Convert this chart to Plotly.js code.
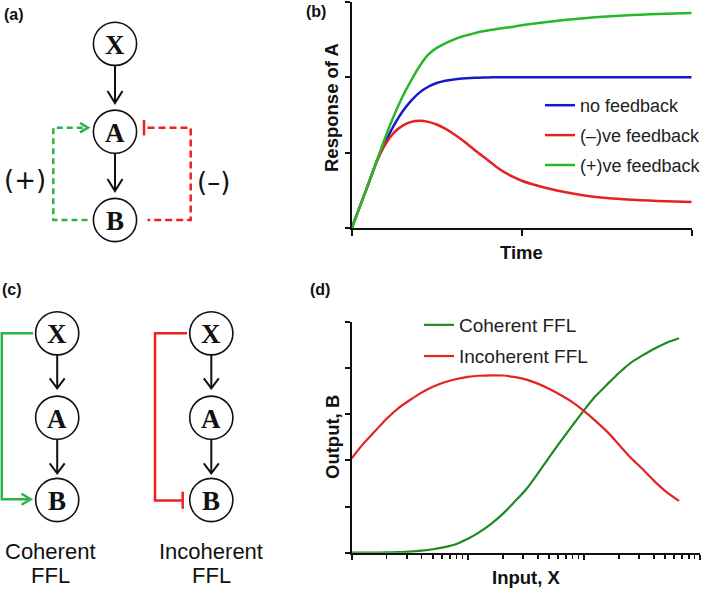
<!DOCTYPE html>
<html>
<head>
<meta charset="utf-8">
<script src="https://cdn.plot.ly/plotly-3.0.1.min.js"></script>
<style>html,body{margin:0;padding:0;background:#fff;}#chart{width:709px;height:589px;}</style>
</head>
<body>
<div id="chart"></div>
<script>
// ---------- Data ----------
// Panel (b): response of A over time
const timeVals    = [0,0.05,0.1,0.15,0.2,0.25,0.3,0.35,0.4,0.45,0.5,0.55,0.6,0.65,0.7,0.75,0.8,0.85,0.9,0.95,1.0,
                     1.1,1.2,1.3,1.4,1.5,1.6,1.7,1.8,1.9,2.0];
const noFeedback  = [0,0.3,0.6,0.9,1.15,1.37,1.55,1.69,1.8,1.875,1.925,1.955,1.972,1.983,1.99,1.995,1.998,2,2,2,2,
                     2,2,2,2,2,2,2,2,2,2];
const negFeedback = [0,0.3,0.6,0.9,1.12,1.27,1.36,1.41,1.425,1.41,1.375,1.32,1.25,1.17,1.08,0.99,0.905,0.815,0.74,0.68,0.63,
                     0.56,0.505,0.46,0.425,0.4,0.385,0.372,0.362,0.355,0.35];
const posFeedback = [0,0.3,0.6,0.91,1.22,1.5,1.75,1.96,2.15,2.3,2.39,2.45,2.5,2.54,2.57,2.6,2.62,2.64,2.655,2.67,2.69,
                     2.72,2.745,2.77,2.79,2.805,2.82,2.83,2.84,2.845,2.85];
const seriesB     = ['no feedback', '(–)ve feedback', '(+)ve feedback'];

// Panel (d): output B vs input X (log axis)
const inputX      = [1,1.25,1.6,2,2.5,3.2,4,5,6.3,8,10,12.5,16,20,25,32,40,50,63,80,100,125,160,200,250,320,400,500,660];
const coherent    = [0,0.001,0.003,0.006,0.013,0.025,0.045,0.075,0.12,0.19,0.30,0.44,0.63,0.84,1.09,1.38,1.71,2.06,2.41,2.76,3.08,
                     3.38,3.65,3.89,4.1,4.27,4.41,4.53,4.64];
const incoherent  = [2.04,2.35,2.64,2.90,3.12,3.31,3.465,3.59,3.69,3.76,3.805,3.83,3.84,3.835,3.805,3.745,3.66,3.55,3.415,3.255,3.07,
                     2.86,2.61,2.34,2.07,1.81,1.56,1.34,1.12];
const seriesD     = ['Coherent FFL', 'Incoherent FFL'];

// Diagram labels
const nodeNames   = ['X', 'A', 'B'];
const panelLabels = ['(a)', '(b)', '(c)', '(d)'];
const ffLines     = [['Coherent', 'FFL'], ['Incoherent', 'FFL']];
const signLabels  = ['(+)', '(–)'];

// ---------- Styles ----------
const SANS = 'Liberation Sans, Arial, sans-serif';
const SERIF = 'Liberation Serif, Times New Roman, serif';
const BLUE = '#1818c8', RED = '#e52222', GREEN_B = '#26b826', GREEN_D = '#1f8a1f';
const GREEN_DIA = '#2bb24c', RED_DIA = '#ee2020';

const traces = [
  {x: timeVals, y: noFeedback, name: seriesB[0], xaxis:'x', yaxis:'y', legend:'legend', legendgroup:'b1',
   mode:'lines', line:{color:BLUE, width:2.5, shape:'spline', smoothing:0.6}},
  {x: timeVals, y: negFeedback, name: seriesB[1], xaxis:'x', yaxis:'y', legend:'legend', legendgroup:'b2',
   mode:'lines', line:{color:RED, width:2.5, shape:'spline', smoothing:0.6}},
  {x: timeVals, y: posFeedback, name: seriesB[2], xaxis:'x', yaxis:'y', legend:'legend', legendgroup:'b3',
   mode:'lines', line:{color:GREEN_B, width:2.5, shape:'spline', smoothing:0.6}},
  {x: inputX, y: coherent, name: seriesD[0], xaxis:'x2', yaxis:'y2', legend:'legend2', legendgroup:'d1',
   mode:'lines', line:{color:GREEN_D, width:2.2, shape:'spline', smoothing:0.8}},
  {x: inputX, y: incoherent, name: seriesD[1], xaxis:'x2', yaxis:'y2', legend:'legend2', legendgroup:'d2',
   mode:'lines', line:{color:RED, width:2.2, shape:'spline', smoothing:0.8}}
];

const W = 709, H = 589;
const axBase = {showgrid:false, zeroline:false, showline:true, linecolor:'#111', linewidth:2,
  ticks:'outside', ticklen:5, tickwidth:2, tickcolor:'#111', showticklabels:false, fixedrange:true};

// shape helpers (pixel space via overlay axes x3/y3)
const shapes = [];
function circ(cx, cy, r) {
  shapes.push({type:'circle', xref:'x3', yref:'y3', x0:cx-r, x1:cx+r, y0:cy-r, y1:cy+r,
    line:{color:'#111', width:1.6}, fillcolor:'white', layer:'above'});
}
function path(d, color, width, dash) {
  shapes.push({type:'path', xref:'x3', yref:'y3', path:d, line:{color:color, width:width, dash:dash||'solid'}, layer:'above'});
}
function downArrow(x, y0, y1, dx, dy) {
  path(`M${x},${y0} L${x},${y1}`, '#111', 2);
  path(`M${x-dx},${y1-dy} L${x},${y1} L${x+dx},${y1-dy}`, '#111', 2);
}
const annotations = [];
function txt(x, y, text, size, opts) {
  annotations.push(Object.assign({xref:'x3', yref:'y3', x:x, y:y, text:text, showarrow:false,
    xanchor:'center', yanchor:'middle', font:{family:SANS, size:size, color:'#111'}}, opts||{}));
}
function node(cx, cy, name) {
  circ(cx, cy, 21.6);
  txt(cx, cy, '<b>' + name + '</b>', 27, {font:{family:SERIF, size:27, color:'#111'}, yshift:-1});
}

// ----- Panel (a) -----
const ax = 115, ay = [43.8, 131.7, 220];
downArrow(ax, 65.3, 103, 7.5, 12);
downArrow(ax, 153.2, 191, 7.5, 12);
path(`M87.5,220 L53.3,220 L53.3,127.7 L86,127.7`, GREEN_DIA, 2.5, '6px,4px');
path(`M80,123 L88,127.7 L80,132.4`, GREEN_DIA, 2.5);
path(`M147.5,127.7 L190.7,127.7 L190.7,220 L147.5,220`, RED_DIA, 2.5, '7px,4px');
path(`M144,120 L144,135.5`, RED_DIA, 2.5);
nodeNames.forEach((n, i) => node(ax, ay[i], n));
txt(25, 180, signLabels[0], 26, {font:{family:'DejaVu Sans', size:26, color:'#111'}});
txt(213, 182, signLabels[1], 26, {font:{family:'DejaVu Sans', size:26, color:'#111'}});

// ----- Panel (c) -----
const cxL = 57.2, cxR = 211.3, cy = [333.3, 417.7, 500];
[cxL, cxR].forEach(cx => {
  downArrow(cx, 355, 388.3, 7.5, 10);
  downArrow(cx, 439.4, 473.3, 7.5, 10);
});
path(`M33,333.3 L1.8,333.3 L1.8,499.3 L30,499.3`, GREEN_DIA, 2.5);
path(`M21.5,493.8 L30.7,499.3 L21.5,504.8`, GREEN_DIA, 2.5);
path(`M187,333.3 L155,333.3 L155,500.5 L182.7,500.5`, RED_DIA, 2.5);
path(`M182.7,491.7 L182.7,508.8`, RED_DIA, 2.5);
[cxL, cxR].forEach(cx => nodeNames.forEach((n, i) => node(cx, cy[i], n)));
const ffX = [50.5, 211];
ffLines.forEach((lines, i) => {
  txt(ffX[i], 551, lines[0], 22, {font:{family:SANS, size:22, color:'#111'}});
  txt(ffX[i], 575, lines[1], 22, {font:{family:SANS, size:22, color:'#111'}});
});

// ----- panel labels -----
const labPos = [[13.5, 14], [316, 11], [11.5, 289], [320, 289]];
panelLabels.forEach((l, i) => txt(labPos[i][0], labPos[i][1], '<b>' + l + '</b>', 16));

// ----- axis titles -----
const titleFont = {family:SANS, size:18.5, color:'#111'};
txt(521.7, 252, '<b>Time</b>', 18.5, {font:titleFont});
txt(331, 108, '<b>Response of A</b>', 18.5, {font:titleFont, textangle:-90});
txt(526, 577, '<b>Input, X</b>', 18.5, {font:titleFont});
txt(332, 437, '<b>Output, B</b>', 18.5, {font:titleFont, textangle:-90});

const layout = {
  width: W, height: H,
  margin: {l:0, r:0, t:0, b:0},
  paper_bgcolor: 'white', plot_bgcolor: 'rgba(0,0,0,0)',
  font: {family: SANS, color:'#111'},
  xaxis: Object.assign({}, axBase, {domain:[351.7/W, 691.7/W], range:[0,2], dtick:1, tick0:0, anchor:'y', ticklen:6}),
  yaxis: Object.assign({}, axBase, {domain:[1-228.3/H, 1-1.8/H], range:[0,3], dtick:1, tick0:0, anchor:'x'}),
  xaxis2: Object.assign({}, axBase, {domain:[351.7/W, 700/W], type:'log', range:[0,3], dtick:1, anchor:'y2',
    minor:{dtick:'D1', ticks:'outside', ticklen:4, tickwidth:1.6, tickcolor:'#111', showgrid:false}}),
  yaxis2: Object.assign({}, axBase, {domain:[1-552.7/H, 1-321.7/H], range:[0,5], dtick:1, tick0:0, anchor:'x2'}),
  xaxis3: {domain:[0,1], range:[0,W], anchor:'y3', showgrid:false, zeroline:false, showline:false,
    showticklabels:false, ticks:'', fixedrange:true},
  yaxis3: {domain:[0,1], range:[H,0], anchor:'x3', showgrid:false, zeroline:false, showline:false,
    showticklabels:false, ticks:'', fixedrange:true},
  showlegend: true,
  legend: {x: 540/W, xanchor:'left', y: 1-87/H, yanchor:'top', bgcolor:'rgba(0,0,0,0)', borderwidth:0,
    font:{family:SANS, size:18, color:'#222'}, traceorder:'grouped', tracegroupgap:3.5, itemwidth:30},
  legend2: {x: 419/W, xanchor:'left', y: 1-306/H, yanchor:'top', bgcolor:'rgba(0,0,0,0)', borderwidth:0,
    font:{family:SANS, size:19, color:'#222'}, traceorder:'grouped', tracegroupgap:3.5, itemwidth:30},
  shapes: shapes,
  annotations: annotations
};

Plotly.newPlot('chart', traces, layout, {displayModeBar:false, staticPlot:true});
</script>
</body>
</html>
